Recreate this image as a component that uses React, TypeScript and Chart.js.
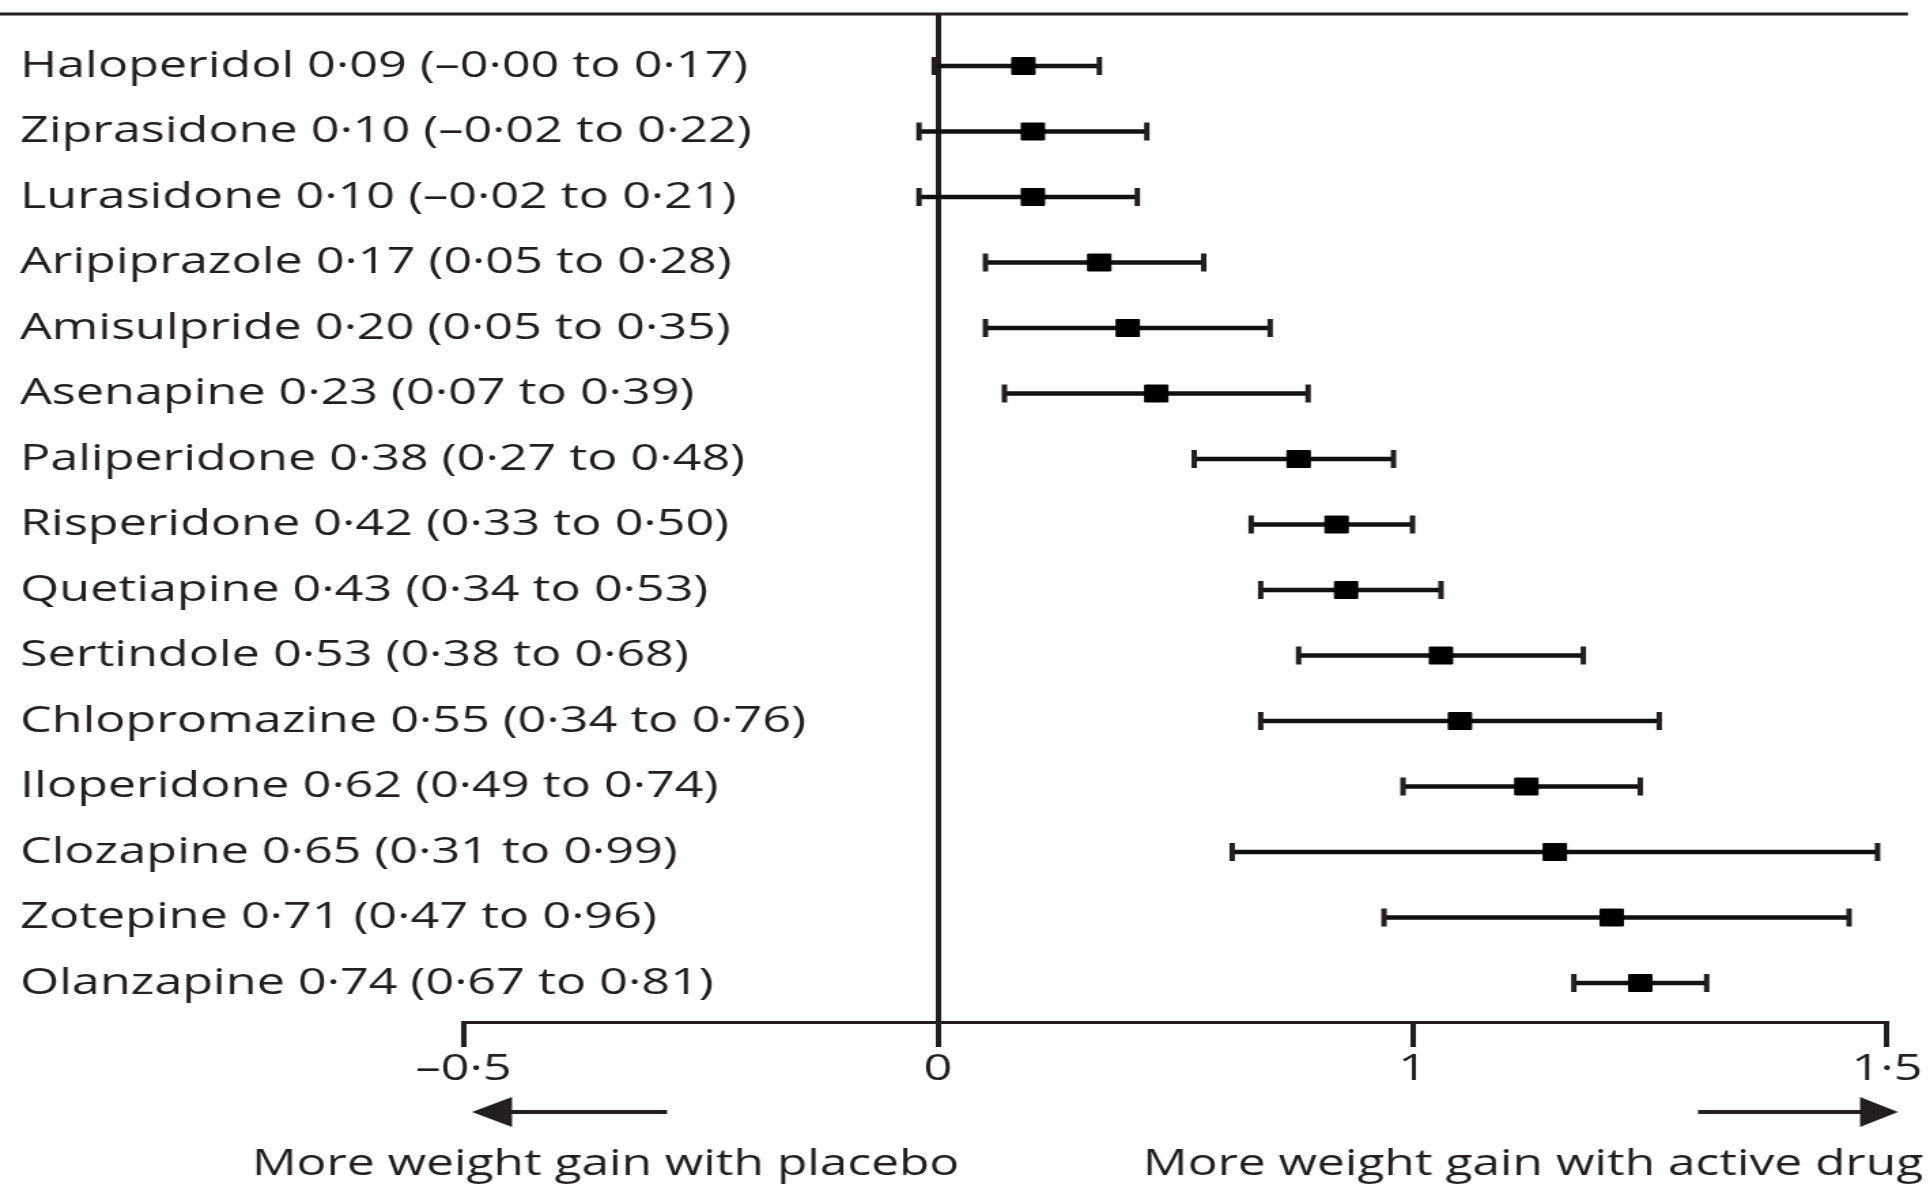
import React, { useEffect, useRef } from "react";
import { Chart, registerables } from "chart.js";

Chart.register(...registerables);

// ---------- data ----------
const drugs = [
  "Haloperidol",
  "Ziprasidone",
  "Lurasidone",
  "Aripiprazole",
  "Amisulpride",
  "Asenapine",
  "Paliperidone",
  "Risperidone",
  "Quetiapine",
  "Sertindole",
  "Chlopromazine",
  "Iloperidone",
  "Clozapine",
  "Zotepine",
  "Olanzapine",
];
const estimates = [0.09, 0.1, 0.1, 0.17, 0.2, 0.23, 0.38, 0.42, 0.43, 0.53, 0.55, 0.62, 0.65, 0.71, 0.74];
const lowerCI = [-0.004, -0.02, -0.02, 0.05, 0.05, 0.07, 0.27, 0.33, 0.34, 0.38, 0.34, 0.49, 0.31, 0.47, 0.67];
const upperCI = [0.17, 0.22, 0.21, 0.28, 0.35, 0.39, 0.48, 0.5, 0.53, 0.68, 0.76, 0.74, 0.99, 0.96, 0.81];
const xTickValues = [-0.5, 0, 0.5, 1];
const xTickLabels = ["–0·5", "0", "1", "1·5"];
const captionLeft = "More weight gain with placebo";
const captionRight = "More weight gain with active drug";

const fmt = (v: number) => (v < 0 ? "–" : "") + Math.abs(v).toFixed(2).replace(".", "·");
const rowLabels = drugs.map(
  (d, i) => `${d} ${fmt(estimates[i])} (${fmt(lowerCI[i])} to ${fmt(upperCI[i])})`
);

// ---------- geometry / style ----------
const OUT_W = 1930;
const OUT_H = 1185;
const CANVAS_W = 1419; // reference is horizontally stretched
const S = OUT_W / CANVAS_W;
const px = (x: number) => x / S;
const DARK = "#231f20";
const FONT = "'Open Sans'";
const AREA_LEFT = px(463.5);
const LABEL_LEFT = px(20);

const decorPlugin = {
  id: "decor",
  afterDraw(chart: any) {
    const ctx = chart.ctx as CanvasRenderingContext2D;
    ctx.save();
    ctx.strokeStyle = DARK;
    ctx.fillStyle = DARK;
    // top rule
    ctx.lineWidth = 3;
    ctx.beginPath();
    ctx.moveTo(0, 14);
    ctx.lineTo(px(1908), 14);
    ctx.stroke();
    // arrows
    const ay = 1112;
    ctx.lineWidth = 4;
    ctx.beginPath();
    ctx.moveTo(px(667), ay);
    ctx.lineTo(px(505), ay);
    ctx.moveTo(px(1698), ay);
    ctx.lineTo(px(1865), ay);
    ctx.stroke();
    ctx.beginPath();
    ctx.moveTo(px(472), ay);
    ctx.lineTo(px(512), ay - 15);
    ctx.lineTo(px(512), ay + 15);
    ctx.closePath();
    ctx.fill();
    ctx.beginPath();
    ctx.moveTo(px(1898), ay);
    ctx.lineTo(px(1860), ay - 15);
    ctx.lineTo(px(1860), ay + 15);
    ctx.closePath();
    ctx.fill();
    // captions
    ctx.font = `36.5px ${FONT}`;
    ctx.textAlign = "left";
    ctx.textBaseline = "alphabetic";
    ctx.fillText(captionLeft, px(252), 1175);
    ctx.fillText(captionRight, px(1143), 1175);
    ctx.restore();
  },
};

export default function App() {
  const ref = useRef<HTMLCanvasElement | null>(null);

  useEffect(() => {
    if (!ref.current) return;
    const rows = drugs.map((_, i) => i);
    const chart = new Chart(ref.current, {
      type: "scatter",
      data: {
        datasets: [
          {
            type: "bar",
            indexAxis: "y",
            data: rows.map((i) => ({ x: [lowerCI[i], upperCI[i]], y: i })),
            backgroundColor: "#111",
            borderWidth: 0,
            barThickness: 4,
            order: 2,
          } as any,
          {
            type: "scatter",
            data: rows.map((i) => ({ x: lowerCI[i], y: i })),
            pointStyle: "line",
            pointRotation: 90,
            pointRadius: 9,
            pointBorderWidth: 4,
            pointBorderColor: DARK,
            order: 1,
          } as any,
          {
            type: "scatter",
            data: rows.map((i) => ({ x: upperCI[i], y: i })),
            pointStyle: "line",
            pointRotation: 90,
            pointRadius: 9,
            pointBorderWidth: 4,
            pointBorderColor: DARK,
            order: 1,
          } as any,
          {
            type: "scatter",
            data: rows.map((i) => ({ x: estimates[i], y: i })),
            pointStyle: "rect",
            pointRadius: 12,
            pointBackgroundColor: "#000",
            pointBorderColor: "#000",
            pointBorderWidth: 1,
            order: 0,
          } as any,
        ],
      },
      options: {
        responsive: false,
        devicePixelRatio: 1,
        animation: false,
        events: [],
        layout: {
          autoPadding: false,
          padding: { left: LABEL_LEFT, right: CANVAS_W - px(1887), top: 14, bottom: 0 },
        },
        plugins: { legend: { display: false }, tooltip: { enabled: false } },
        scales: {
          x: {
            type: "linear",
            min: -0.5,
            max: 1,
            offset: false,
            afterBuildTicks: (scale: any) => {
              scale.ticks = xTickValues.map((v) => ({ value: v }));
            },
            afterFit: (scale: any) => {
              scale.height = OUT_H - 1022;
              scale.paddingLeft = 0;
              scale.paddingRight = 0;
            },
            ticks: {
              callback: (_v: any, i: number) => xTickLabels[i],
              font: { family: FONT, size: 37 },
              color: DARK,
              padding: 0,
              maxRotation: 0,
              autoSkip: false,
            },
            grid: {
              color: (c: any) => (c.tick && c.tick.value === 0 ? DARK : "rgba(0,0,0,0)"),
              lineWidth: 4,
              tickColor: DARK,
              tickWidth: 4,
              tickLength: 25,
              drawOnChartArea: true,
              offset: false,
            },
            border: { display: true, color: DARK, width: 3 },
          },
          y: {
            type: "linear",
            reverse: true,
            offset: false,
            min: -0.794,
            max: 14.595,
            afterBuildTicks: (scale: any) => {
              scale.ticks = rows.map((i) => ({ value: i }));
            },
            afterFit: (scale: any) => {
              scale.width = AREA_LEFT - LABEL_LEFT;
              scale.paddingTop = 0;
              scale.paddingBottom = 0;
            },
            ticks: {
              callback: (v: any) => rowLabels[v as number],
              font: { family: FONT, size: 37 },
              color: DARK,
              mirror: true,
              crossAlign: "near",
              padding: LABEL_LEFT - AREA_LEFT,
              autoSkip: false,
            },
            grid: { display: false, offset: false },
            border: { display: false },
          },
        },
      } as any,
      plugins: [decorPlugin],
    });
    return () => chart.destroy();
  }, []);

  return (
    <div style={{ position: "fixed", left: 0, top: 0, width: OUT_W, height: OUT_H, background: "#fff" }}>
      <canvas
        ref={ref}
        width={CANVAS_W}
        height={OUT_H}
        style={{ display: "block", width: `${OUT_W}px`, height: `${OUT_H}px` }}
      />
    </div>
  );
}
